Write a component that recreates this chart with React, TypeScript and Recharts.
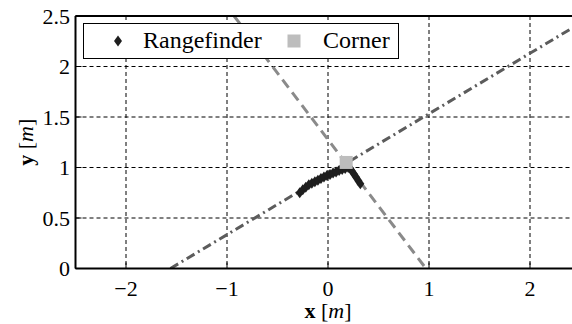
import React from 'react';
import { CartesianGrid, ComposedChart, Line, Scatter, XAxis, YAxis } from 'recharts';

const FONT = 'Liberation Serif, DejaVu Serif, Times New Roman, Times, serif';

const xTicks = [-2, -1, 0, 1, 2];
const yTicks = [0, 0.5, 1, 1.5, 2, 2.5];

// rangefinder returns around the corner
const rangefinderX = [
  -0.28, -0.25, -0.22, -0.19, -0.16, -0.13, -0.1, -0.07, -0.04, -0.01, 0.02, 0.05,
  0.08, 0.11, 0.14, 0.17, 0.2, 0.22, 0.24, 0.26, 0.28, 0.3, 0.32,
];
const rangefinderY = [
  0.75, 0.78, 0.805, 0.83, 0.845, 0.86, 0.875, 0.89, 0.905, 0.92, 0.93, 0.945,
  0.955, 0.97, 0.98, 0.99, 1.0, 0.99, 0.96, 0.93, 0.9, 0.87, 0.84,
];

const cornerX = [0.18];
const cornerY = [1.05];

// fitted wall lines
const wallAX = [-1.56, 2.5];
const wallAY = [0, 2.43];
const wallBX = [-0.93, 0.97];
const wallBY = [2.5, 0];

const zip = (xs: number[], ys: number[]) => xs.map((x, i) => ({ x, y: ys[i] }));

const rangefinder = zip(rangefinderX, rangefinderY);
const corner = zip(cornerX, cornerY);
const wallA = zip(wallAX, wallAY);
const wallB = zip(wallBX, wallBY);

const Diamond = (props: any) => {
  const { cx, cy } = props;
  return (
    <path
      d={`M${cx},${cy - 5.5}L${cx + 4},${cy}L${cx},${cy + 5.5}L${cx - 4},${cy}Z`}
      fill="#1e1e1e"
    />
  );
};

const Square = (props: any) => {
  const { cx, cy } = props;
  return <rect x={cx - 6.5} y={cy - 6.5} width={13} height={13} fill="#bdbdbd" />;
};

const XTitle = (props: any) => {
  const { x, y, width } = props.viewBox;
  return (
    <text x={x + width / 2} y={y + 49.5} textAnchor="middle" style={{ fontFamily: FONT }} fontSize={22} fill="#000">
      <tspan fontWeight="bold">x</tspan> [<tspan fontStyle="italic">m</tspan>]
    </text>
  );
};

const YTitle = (props: any) => {
  const { y, height } = props.viewBox;
  const cx = 25;
  const cy = y + height / 2;
  return (
    <text
      x={cx}
      y={cy}
      transform={`rotate(-90 ${cx} ${cy})`}
      textAnchor="middle"
      dominantBaseline="central"
      style={{ fontFamily: FONT }}
      fontSize={22}
      fill="#000"
    >
      <tspan fontWeight="bold">y</tspan> [<tspan fontStyle="italic">m</tspan>]
    </text>
  );
};

const fmt = (v: number) => (v < 0 ? `\u2212${Math.abs(v)}` : `${v}`);

const tickStyle = { fontFamily: FONT, fontSize: 22, fill: '#000', style: { fontFamily: FONT } };

export default function App() {
  return (
    <div
      style={{
        position: 'fixed',
        left: 0,
        top: 0,
        width: 572,
        height: 324,
        overflow: 'hidden',
        background: '#fff',
        fontFamily: FONT,
      }}
    >
      <ComposedChart
        width={600}
        height={324}
        margin={{ top: 6, right: 19.5, bottom: 0, left: 0 }}
      >
        <CartesianGrid stroke="#000" strokeWidth={1} strokeDasharray="4 3" />
        <Line
          data={wallA}
          dataKey="y"
          type="linear"
          stroke="#5c5c5c"
          strokeWidth={3}
          strokeDasharray="9 4 2 4"
          dot={false}
          isAnimationActive={false}
        />
        <Line
          data={wallB}
          dataKey="y"
          type="linear"
          stroke="#8a8a8a"
          strokeWidth={3}
          strokeDasharray="10 6"
          dot={false}
          isAnimationActive={false}
        />
        <Scatter data={rangefinder} dataKey="y" shape={Diamond} isAnimationActive={false} />
        <Scatter data={corner} dataKey="y" shape={Square} isAnimationActive={false} />
        <XAxis
          dataKey="x"
          type="number"
          domain={[-2.5, 2.5]}
          ticks={xTicks}
          allowDataOverflow
          height={55.5}
          tickSize={-6}
          tickMargin={18}
          tickFormatter={fmt}
          tick={tickStyle}
          stroke="#000"
          axisLine={{ stroke: '#000', strokeWidth: 2 }}
          tickLine={{ stroke: '#000', strokeWidth: 1 }}
          label={XTitle}
        />
        <XAxis
          xAxisId="top"
          orientation="top"
          type="number"
          domain={[-2.5, 2.5]}
          ticks={xTicks}
          allowDataOverflow
          height={10}
          tickSize={-6}
          tick={false}
          axisLine={{ stroke: '#000', strokeWidth: 2 }}
          tickLine={{ stroke: '#000', strokeWidth: 1 }}
        />
        <YAxis
          dataKey="y"
          type="number"
          domain={[0, 2.5]}
          ticks={yTicks}
          allowDataOverflow
          width={75.5}
          tickSize={-6}
          tickMargin={11.5}
          tick={tickStyle}
          axisLine={{ stroke: '#000', strokeWidth: 2 }}
          tickLine={{ stroke: '#000', strokeWidth: 1 }}
          label={YTitle}
        />
      </ComposedChart>
      <div
        style={{
          position: 'absolute',
          left: 83,
          top: 23,
          width: 316,
          height: 36,
          boxSizing: 'border-box',
          border: '1.5px solid #000',
          background: '#fff',
          fontFamily: FONT,
          fontSize: 24,
          color: '#000',
        }}
      >
        <svg style={{ position: 'absolute', left: 29, top: 11 }} width={10} height={12}>
          <path d="M5,0.5L9,6L5,11.5L1,6Z" fill="#1e1e1e" />
        </svg>
        <span style={{ position: 'absolute', left: 59, top: 2, lineHeight: '28px' }}>Rangefinder</span>
        <svg style={{ position: 'absolute', left: 203, top: 9.5 }} width={14} height={14}>
          <rect x={0.5} y={0.5} width={13} height={13} fill="#bdbdbd" />
        </svg>
        <span style={{ position: 'absolute', left: 239, top: 2, lineHeight: '28px' }}>Corner</span>
      </div>
    </div>
  );
}
